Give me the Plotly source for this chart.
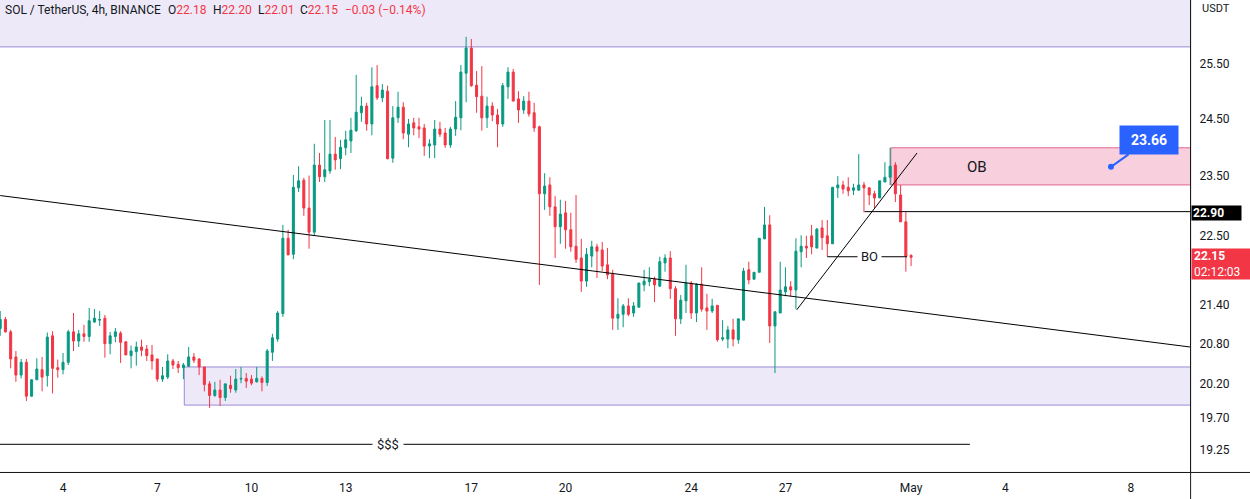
import math
import pandas as pd
import plotly.graph_objects as go

# ---------------- data (SOL/USDT, 4h candles) ----------------
start_time = "2023-04-02 00:00"
n_candles = 175

opens = [21.03, 21.17, 20.98, 20.60, 20.33, 20.52, 20.02, 20.26, 20.41, 20.32,
         20.92, 20.44, 20.41, 20.52, 20.98, 20.84, 20.95, 20.91, 21.13, 21.16,
         21.19, 20.80, 20.91, 20.96, 20.83, 20.62, 20.68, 20.75, 20.72, 20.63,
         20.57, 20.27, 20.30, 20.54, 20.49, 20.44, 20.46, 20.60, 20.57, 20.45,
         20.20, 20.03, 20.11, 20.00, 20.18, 20.11, 20.27, 20.28, 20.27, 20.23,
         20.28, 20.22, 20.67, 20.87, 21.26, 22.46, 22.20, 23.30, 23.43, 22.96,
         22.56, 23.69, 23.49, 23.59, 23.88, 23.80, 23.99, 24.11, 24.29, 24.61,
         24.73, 24.41, 25.10, 24.88, 25.00, 23.81, 24.52, 24.71, 24.23, 24.43,
         24.36, 24.34, 24.02, 24.04, 24.32, 24.25, 24.04, 24.32, 24.52, 25.33,
         25.80, 25.11, 24.91, 24.52, 24.73, 24.57, 24.41, 25.08, 25.35, 24.86,
         24.66, 24.82, 24.61, 24.36, 23.20, 23.35, 22.98, 22.65, 22.88, 22.60,
         22.33, 22.14, 21.77, 22.17, 22.32, 22.27, 22.03, 21.88, 21.19, 21.25,
         21.38, 21.27, 21.36, 21.71, 21.76, 21.80, 21.69, 22.06, 22.14, 21.65,
         21.18, 21.46, 21.74, 21.27, 21.72, 21.35, 21.30, 21.39, 20.87, 20.87,
         21.01, 20.86, 21.16, 21.95, 21.80, 21.91, 22.45, 22.68, 21.07, 21.27,
         21.60, 21.68, 21.63, 22.24, 22.33, 22.50, 22.30, 22.63, 22.50, 22.37,
         23.30, 23.35, 23.31, 23.26, 23.26, 23.35, 23.30, 23.20, 23.13, 23.40,
         23.48, 23.69, 23.18, 22.73, 22.18]

highs = [21.30, 21.21, 21.01, 20.69, 20.57, 20.57, 20.27, 20.58, 20.60, 20.97,
         20.99, 20.56, 20.66, 21.01, 21.27, 21.01, 21.09, 21.35, 21.33, 21.30,
         21.24, 20.98, 21.04, 20.99, 20.83, 20.77, 20.83, 20.86, 20.78, 20.78,
         20.57, 20.45, 20.64, 20.57, 20.54, 20.51, 20.75, 20.66, 20.58, 20.45,
         20.24, 20.23, 20.26, 20.20, 20.32, 20.42, 20.45, 20.36, 20.33, 20.45,
         20.31, 20.72, 20.95, 21.30, 22.68, 22.60, 23.52, 23.67, 23.47, 23.51,
         24.06, 23.90, 24.48, 24.48, 24.18, 24.13, 24.29, 24.52, 25.30, 24.90,
         24.79, 25.44, 25.48, 25.13, 25.10, 24.73, 24.99, 24.80, 24.50, 24.52,
         24.52, 24.41, 24.14, 24.48, 24.45, 24.34, 24.36, 24.82, 25.48, 26.01,
         25.97, 25.37, 25.46, 24.90, 24.80, 24.68, 25.15, 25.44, 25.41, 25.00,
         24.91, 24.99, 24.79, 24.38, 23.55, 23.48, 23.16, 23.10, 23.08, 22.88,
         23.18, 22.45, 22.30, 22.42, 22.37, 22.40, 22.30, 21.95, 21.50, 21.41,
         21.50, 21.44, 21.74, 21.95, 21.99, 21.84, 22.16, 22.20, 22.25, 21.69,
         21.55, 22.03, 21.77, 21.74, 21.99, 21.57, 21.49, 21.39, 21.16, 21.07,
         21.18, 21.18, 21.98, 22.08, 21.91, 22.46, 22.98, 22.84, 21.29, 22.08,
         21.99, 21.77, 22.46, 22.51, 22.50, 22.68, 22.63, 22.76, 22.76, 23.31,
         23.50, 23.42, 23.48, 23.37, 23.88, 23.40, 23.31, 23.25, 23.42, 23.74,
         23.99, 23.74, 23.35, 22.89, 22.20]

lows = [20.92, 20.97, 20.43, 20.23, 20.28, 19.95, 20.01, 20.26, 20.09, 20.16,
        20.06, 20.29, 20.34, 20.48, 20.69, 20.75, 20.83, 20.83, 21.12, 21.07,
        20.59, 20.64, 20.82, 20.51, 20.63, 20.43, 20.47, 20.61, 20.54, 20.41,
        20.23, 20.23, 20.27, 20.42, 20.36, 20.27, 20.45, 20.51, 20.33, 20.09,
        19.85, 20.01, 19.88, 19.95, 20.07, 20.07, 20.21, 20.14, 20.18, 20.22,
        20.09, 20.17, 20.54, 20.83, 21.21, 22.19, 22.12, 23.23, 22.83, 22.29,
        22.50, 23.40, 23.40, 23.54, 23.61, 23.62, 23.86, 23.90, 24.27, 24.45,
        24.29, 24.21, 24.84, 24.80, 23.79, 23.73, 24.43, 24.14, 24.00, 24.21,
        24.16, 23.85, 23.81, 23.81, 24.18, 23.99, 23.99, 24.20, 24.30, 24.80,
        25.08, 24.61, 24.29, 24.34, 24.46, 24.00, 24.36, 24.86, 24.82, 24.43,
        24.59, 24.54, 24.27, 21.71, 22.93, 22.83, 22.14, 22.37, 22.29, 22.24,
        22.06, 21.60, 21.68, 21.99, 21.82, 21.93, 21.80, 21.01, 21.01, 21.05,
        21.22, 21.21, 21.36, 21.61, 21.69, 21.44, 21.68, 21.92, 21.49, 20.92,
        21.10, 21.27, 21.18, 21.13, 21.29, 21.01, 21.27, 20.83, 20.84, 20.73,
        20.76, 20.80, 21.16, 21.72, 21.80, 21.91, 22.45, 20.81, 20.36, 21.27,
        21.53, 21.53, 21.33, 21.99, 22.14, 22.20, 22.30, 22.27, 22.16, 22.37,
        23.13, 23.20, 23.16, 23.18, 23.26, 22.89, 23.01, 22.96, 23.13, 23.40,
        23.35, 23.06, 22.73, 21.92, 22.01]

closes = [21.17, 20.98, 20.57, 20.33, 20.52, 20.02, 20.26, 20.42, 20.30, 20.90,
          20.43, 20.41, 20.52, 20.98, 20.84, 20.95, 20.91, 21.15, 21.19, 21.17,
          20.80, 20.92, 20.98, 20.82, 20.63, 20.69, 20.75, 20.70, 20.62, 20.54,
          20.27, 20.32, 20.54, 20.48, 20.44, 20.48, 20.60, 20.55, 20.45, 20.19,
          20.03, 20.11, 20.00, 20.20, 20.13, 20.27, 20.28, 20.24, 20.21, 20.28,
          20.22, 20.69, 20.89, 21.27, 22.46, 22.19, 23.31, 23.42, 22.96, 22.56,
          23.69, 23.49, 23.61, 23.88, 23.78, 24.00, 24.13, 24.30, 24.62, 24.73,
          24.41, 25.08, 24.88, 25.02, 23.80, 24.52, 24.71, 24.25, 24.41, 24.34,
          24.32, 24.02, 24.06, 24.32, 24.23, 24.04, 24.32, 24.53, 25.35, 25.80,
          25.10, 24.90, 24.52, 24.73, 24.57, 24.41, 25.10, 25.35, 24.82, 24.66,
          24.82, 24.59, 24.34, 23.20, 23.33, 22.98, 22.65, 22.86, 22.60, 22.32,
          22.12, 21.77, 22.20, 22.32, 22.25, 22.01, 21.87, 21.19, 21.25, 21.38,
          21.25, 21.38, 21.74, 21.77, 21.80, 21.71, 22.08, 22.14, 21.65, 21.18,
          21.47, 21.74, 21.27, 21.72, 21.33, 21.30, 21.38, 20.86, 20.89, 21.01,
          20.87, 21.18, 21.93, 21.79, 21.91, 22.46, 22.68, 21.07, 21.29, 21.63,
          21.68, 21.63, 22.25, 22.33, 22.30, 22.32, 22.61, 22.47, 22.37, 23.31,
          23.35, 23.28, 23.25, 23.30, 23.35, 23.30, 23.18, 23.13, 23.42, 23.48,
          23.67, 23.20, 22.73, 22.17, 22.15]

# axis ticks
x_tick_dates = ["2023-04-04", "2023-04-07", "2023-04-10", "2023-04-13", "2023-04-17",
                "2023-04-20", "2023-04-24", "2023-04-27", "2023-05-01", "2023-05-04",
                "2023-05-08"]
x_tick_labels = ["4", "7", "10", "13", "17", "20", "24", "27", "May", "4", "8"]
y_tick_values = [25.50, 24.50, 23.50, 22.50, 21.40, 20.80, 20.20, 19.70, 19.25]

# drawing levels (prices)
top_zone_low = 25.82
demand_zone = (19.89, 20.45)
ob_zone = (23.35, 23.99)
level_2290 = 22.90
bo_level = 22.16
sss_level = 19.33
note_price = 23.66
desc_line = (("2023-04-02 00:00", 23.17), ("2023-05-09 21:06", 20.75))
rise_line = (("2023-04-27 08:40", 21.32), ("2023-05-01 04:33", 23.90))

times = pd.date_range(start_time, periods=n_candles, freq="4h")

GREEN = "#089981"
RED = "#f23645"
TXT = "#131722"
PURPLE = "#9c8ad8"
LAV = "rgba(237,233,248,1)"
FONT = "Roboto"
FRAME = "#1b1b1b"

fig = go.Figure()
fig.add_trace(go.Candlestick(
    x=times, open=opens, high=highs, low=lows, close=closes,
    increasing=dict(line=dict(color=GREEN, width=1), fillcolor=GREEN),
    decreasing=dict(line=dict(color=RED, width=1), fillcolor=RED),
    whiskerwidth=0, showlegend=False, hoverinfo="skip"))

# blue note dot
fig.add_trace(go.Scatter(x=["2023-05-07 08:44"], y=[note_price], mode="markers",
                         marker=dict(color="#2962ff", size=6), showlegend=False,
                         hoverinfo="skip"))

x_far_left = "2023-03-30"
x_far_right = "2023-05-12"

shapes = [
    dict(type="rect", xref="x", yref="y", x0=x_far_left, x1=x_far_right,
         y0=top_zone_low, y1=40, fillcolor=LAV, line=dict(color=PURPLE, width=1),
         layer="below"),
    dict(type="rect", xref="x", yref="y", x0="2023-04-07 20:40", x1=x_far_right,
         y0=demand_zone[0], y1=demand_zone[1], fillcolor=LAV,
         line=dict(color=PURPLE, width=1), layer="below"),
    dict(type="rect", xref="x", yref="y", x0="2023-04-30 08:30", x1=x_far_right,
         y0=ob_zone[0], y1=ob_zone[1], fillcolor="rgba(248,208,221,1)",
         line=dict(color="#e0648d", width=1), layer="below"),
    dict(type="line", xref="x", yref="y", x0="2023-04-29 12:30", x1=x_far_right,
         y0=level_2290, y1=level_2290, line=dict(color="#000000", width=1)),
    dict(type="line", xref="x", yref="y", x0="2023-04-28 08:00", x1="2023-04-30 21:00",
         y0=bo_level, y1=bo_level, line=dict(color="#000000", width=1)),
    dict(type="line", xref="x", yref="y", x0=x_far_left, x1="2023-05-02 20:54",
         y0=sss_level, y1=sss_level, line=dict(color="#000000", width=1)),
    dict(type="line", xref="x", yref="y", x0=desc_line[0][0], y0=desc_line[0][1],
         x1=desc_line[1][0], y1=desc_line[1][1], line=dict(color="#000000", width=1)),
    dict(type="line", xref="x", yref="y", x0=rise_line[0][0], y0=rise_line[0][1],
         x1=rise_line[1][0], y1=rise_line[1][1], line=dict(color="#000000", width=1)),
    # frame lines extending into the price-scale area
    dict(type="line", xref="paper", yref="paper", x0=0, x1=1.06, y0=-0.001, y1=-0.001,
         line=dict(color=FRAME, width=1), layer="above"),
    dict(type="line", xref="paper", yref="paper", x0=1.0005, x1=1.0005, y0=-0.1, y1=1,
         line=dict(color=FRAME, width=1), layer="above"),
]

PW = 1190.0
PH = 472.0


def px(xp):
    return xp / PW


def py(yp):
    return 1 - yp / PH


annotations = []
hdr_y = py(10)
hdr_items = [
    (3, "SOL / TetherUS, 4h, BINANCE"),
    (166, "O<span style='color:%s'>22.18</span>" % RED),
    (211, "H<span style='color:%s'>22.20</span>" % RED),
    (256, "L<span style='color:%s'>22.01</span>" % RED),
    (298, "C<span style='color:%s'>22.15</span>" % RED),
    (343, "<span style='color:%s'>−0.03 (−0.14%%)</span>" % RED),
]
for xp, t in hdr_items:
    annotations.append(dict(xref="paper", yref="paper", x=px(xp), y=hdr_y, text=t,
                            showarrow=False, xanchor="left", yanchor="middle",
                            font=dict(family=FONT, size=12, color=TXT)))

annotations.append(dict(xref="paper", yref="paper", x=px(1200), y=py(9), text="USDT",
                        showarrow=False, xanchor="left", yanchor="middle",
                        font=dict(family=FONT, size=11, color=TXT)))

annotations.append(dict(xref="paper", yref="paper", x=px(1191), y=py(213),
                        text="<b>22.90</b>", showarrow=False, xanchor="left",
                        yanchor="middle", bgcolor="#000000", width=47, height=12,
                        borderpad=1, align="left",
                        font=dict(family=FONT, size=12, color="white")))
annotations.append(dict(xref="paper", yref="paper", x=px(1191), y=py(264),
                        text="<b>22.15</b><br>02:12:03", showarrow=False,
                        xanchor="left", yanchor="middle", bgcolor=RED, width=55,
                        height=26, borderpad=2, align="left",
                        font=dict(family=FONT, size=12, color="white")))

annotations.append(dict(xref="x", yref="y", x="2023-05-03 02:24",
                        y=math.log10(23.665), text="OB", showarrow=False,
                        font=dict(family=FONT, size=15, color=TXT)))
annotations.append(dict(xref="x", yref="y", x="2023-04-29 16:35",
                        y=math.log10(bo_level), text="BO", showarrow=False,
                        bgcolor="white", borderpad=3,
                        font=dict(family=FONT, size=13, color=TXT)))
annotations.append(dict(xref="x", yref="y", x="2023-04-14 08:18",
                        y=math.log10(sss_level), text="$$$", showarrow=False,
                        bgcolor="white", borderpad=4,
                        font=dict(family=FONT, size=13, color=TXT)))
annotations.append(dict(xref="x", yref="y", x="2023-05-07 08:44",
                        y=math.log10(note_price), text="<b>23.66</b>",
                        showarrow=True, arrowhead=0, arrowwidth=2,
                        arrowcolor="#2962ff", ax=38, ay=-27, bgcolor="#2962ff",
                        width=48, height=18, borderpad=5,
                        font=dict(family=FONT, size=14, color="white")))

fig.update_layout(
    width=1250, height=499,
    margin=dict(l=0, r=60, t=0, b=27),
    paper_bgcolor="white", plot_bgcolor="white",
    boxgap=0.45,
    showlegend=False,
    shapes=shapes,
    annotations=annotations,
    xaxis=dict(type="date", range=["2023-04-01 23:51", "2023-05-09 21:07"],
               rangeslider=dict(visible=False), showgrid=False, zeroline=False,
               showline=True, linecolor=FRAME, linewidth=1,
               tickmode="array", tickvals=x_tick_dates,
               ticktext=x_tick_labels, ticks="outside", ticklen=5,
               tickcolor="rgba(0,0,0,0)",
               tickfont=dict(family=FONT, size=12, color=TXT)),
    yaxis=dict(type="log", side="right", range=[1.27747, 1.42679],
               showgrid=False, zeroline=False, showline=True, linecolor=FRAME,
               linewidth=1, tickmode="array",
               tickvals=y_tick_values, ticktext=["%.2f" % v for v in y_tick_values],
               ticks="outside", ticklen=6, tickcolor="rgba(0,0,0,0)",
               tickfont=dict(family=FONT, size=12, color=TXT)),
)

fig.write_html("out.html",
               config={"displayModeBar": False},
               post_script="document.body.style.margin='0';document.body.style.overflow='hidden';")
